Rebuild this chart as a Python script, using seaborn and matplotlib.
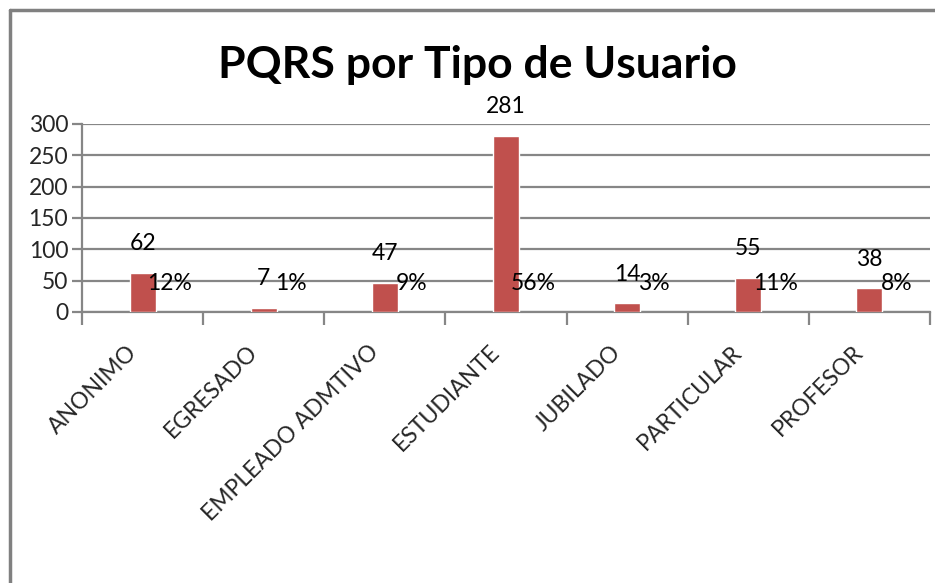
import matplotlib
matplotlib.use("Agg")
import matplotlib.pyplot as plt
import matplotlib.transforms as mtransforms
from matplotlib.lines import Line2D
import seaborn as sns
import pandas as pd

categorias = ["ANONIMO", "EGRESADO", "EMPLEADO ADMTIVO", "ESTUDIANTE",
              "JUBILADO", "PARTICULAR", "PROFESOR"]
cantidades = [62, 7, 47, 281, 14, 55, 38]
porcentajes = ["12%", "1%", "9%", "56%", "3%", "11%", "8%"]

df = pd.DataFrame({"tipo": categorias, "pqrs": cantidades})

sns.set_theme(style="white")
plt.rcParams["font.family"] = ["Lato", "DejaVu Sans"]

fs = 16.5

fig = plt.figure(figsize=(9.35, 5.83), dpi=100)
ax = fig.add_axes([82 / 935, 1 - 312 / 583, 848 / 935, 188 / 583])

sns.barplot(data=df, x="tipo", y="pqrs", color="#C0504D", saturation=1,
            width=0.215, ax=ax, zorder=3)

ax.set_ylim(0, 300)
ax.set_xlim(-0.5, len(categorias) - 0.5)
ax.set_yticks(range(0, 301, 50))
ax.yaxis.grid(True, color="#868686", linewidth=1.6, zorder=0)
ax.set_axisbelow(True)
ax.set_xlabel("")
ax.set_ylabel("")

for s in ["top", "right"]:
    ax.spines[s].set_visible(False)
for s in ["left", "bottom"]:
    ax.spines[s].set_color("#868686")
    ax.spines[s].set_linewidth(1.6)

ax.tick_params(axis="y", which="major", length=7, width=1.6, color="#868686",
               labelsize=fs, pad=3, left=True)
ax.set_xticks(range(len(categorias)))
ax.set_xticks([i - 0.5 for i in range(len(categorias) + 1)], minor=True)
ax.tick_params(axis="x", which="major", length=0, labelsize=fs, pad=21)
ax.tick_params(axis="x", which="minor", length=9, width=1.6, color="#868686",
               bottom=True)
ax.set_xticklabels(categorias, rotation=45, ha="right", va="top",
                   rotation_mode="anchor")
shift = mtransforms.ScaledTranslation(-12 / 72, 0, fig.dpi_scale_trans)
for lbl in ax.get_xticklabels():
    lbl.set_transform(lbl.get_transform() + shift)

for i, (v, p) in enumerate(zip(cantidades, porcentajes)):
    ax.annotate(str(v), (i, v), xytext=(0, 21), textcoords="offset points",
                ha="center", va="center", fontsize=fs, color="black")
    ax.annotate(p, (i, 45), xytext=(19.5, 0), textcoords="offset points",
                ha="center", va="center", fontsize=fs, color="black", zorder=4)

fig.text(477 / 935, 1 - 78 / 583, "PQRS por Tipo de Usuario", ha="center",
         va="baseline", fontsize=32, fontweight="bold", color="black")

# marco del grafico (solo izquierda y arriba visibles)
bx, by = 9.5 / 935, 1 - 10 / 583
fig.add_artist(Line2D([bx, bx], [0, by], transform=fig.transFigure,
                      color="#808080", linewidth=2.5))
fig.add_artist(Line2D([bx, 1], [by, by], transform=fig.transFigure,
                      color="#808080", linewidth=2.5))

fig.savefig("out.png", dpi=100)
